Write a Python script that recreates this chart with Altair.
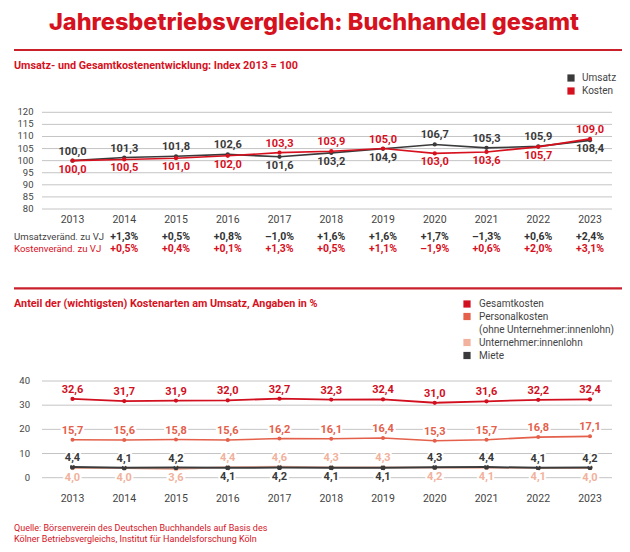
import altair as alt
import pandas as pd

# ---------------- data ----------------
years = [str(y) for y in range(2013, 2024)]

umsatz = [100.0, 101.3, 101.8, 102.6, 101.6, 103.2, 104.9, 106.7, 105.3, 105.9, 108.4]
kosten = [100.0, 100.5, 101.0, 102.0, 103.3, 103.9, 105.0, 103.0, 103.6, 105.7, 109.0]

umsatz_chg = [1.3, 0.5, 0.8, -1.0, 1.6, 1.6, 1.7, -1.3, 0.6, 2.4]   # 2014..2023
kosten_chg = [0.5, 0.4, 0.1, 1.3, 0.5, 1.1, -1.9, 0.6, 2.0, 3.1]    # 2014..2023

gesamt = [32.6, 31.7, 31.9, 32.0, 32.7, 32.3, 32.4, 31.0, 31.6, 32.2, 32.4]
personal = [15.7, 15.6, 15.8, 15.6, 16.2, 16.1, 16.4, 15.3, 15.7, 16.8, 17.1]
unternehmer = [4.0, 4.0, 3.6, 4.4, 4.6, 4.3, 4.3, 4.2, 4.1, 4.1, 4.0]
miete = [4.4, 4.1, 4.2, 4.1, 4.2, 4.1, 4.1, 4.3, 4.4, 4.1, 4.2]

top_ticks = [80, 85, 90, 95, 100, 105, 110, 115, 120]
bottom_ticks = [0, 10, 20, 30, 40]

title_text = "Jahresbetriebsvergleich: Buchhandel gesamt"
sub1_text = "Umsatz- und Gesamtkostenentwicklung: Index 2013 = 100"
sub2_text = "Anteil der (wichtigsten) Kostenarten am Umsatz, Angaben in %"
row1_text = "Umsatzveränd. zu VJ"
row2_text = "Kostenveränd. zu VJ"
legend1 = ["Umsatz", "Kosten"]
legend2 = ["Gesamtkosten", "Personalkosten", "(ohne Unternehmer:innenlohn)",
           "Unternehmer:innenlohn", "Miete"]
source_lines = ["Quelle: Börsenverein des Deutschen Buchhandels auf Basis des",
                "Kölner Betriebsvergleichs, Institut für Handelsforschung Köln"]

# ---------------- style ----------------
RED_T = "#d5121e"
RED_RULE = "#c9202b"
C_UMS = "#3a3a3a"
C_KOS = "#d7101e"
C_GES = "#d10f1e"
C_PER = "#e4604a"
C_UNT = "#f1b19c"
C_MIE = "#3a3a3a"
GRID = "#c4c4c4"
TXT = "#444444"
FONT = "Roboto"

O = 8  # page margin


def P(v):
    return v - O


def de(v):
    return f"{v:.1f}".replace(".", ",")


def chg(v):
    return ("+" if v >= 0 else "\u2013") + f"{abs(v):.1f}".replace(".", ",") + "%"


X = alt.X("year:O", scale=alt.Scale(type="point", domain=years,
                                    range=[P(72.5), P(590)], padding=0), axis=None)
YT = alt.Scale(domain=[80, 120], range=[P(209), P(112.3)], nice=False, zero=False)
YB = alt.Scale(domain=[0, 40], range=[P(477.7), P(381)], nice=False, zero=False)


def txt(text, x, y, size, color, weight="normal", align="left", font=FONT, baseline="middle"):
    return alt.Chart(pd.DataFrame({"t": [text]})).mark_text(
        align=align, baseline=baseline, fontSize=size, fontWeight=weight,
        color=color, font=font
    ).encode(text="t:N", x=alt.value(x), y=alt.value(y))


def hrule(y, color, width, x1=P(14), x2=P(622)):
    return alt.Chart(pd.DataFrame({"a": [0]})).mark_rule(
        color=color, strokeWidth=width
    ).encode(x=alt.value(x1), x2=alt.value(x2), y=alt.value(y))


def square(x, y, color):
    return alt.Chart(pd.DataFrame({"a": [0]})).mark_square(
        size=52, color=color, opacity=1
    ).encode(x=alt.value(x), y=alt.value(y))


layers = []

# ---------------- header ----------------
layers.append(txt(title_text, P(314), P(30), 23.5, RED_T, weight=800,
                  align="center", baseline="alphabetic", font="Inter"))
layers.append(hrule(P(50), RED_RULE, 2.2))
layers.append(txt(sub1_text, P(14), P(66), 10.8, RED_T, weight="bold"))
layers.append(square(P(571), P(78), C_UMS))
layers.append(square(P(571), P(91), C_KOS))
layers.append(txt(legend1[0], P(582), P(78.3), 10, TXT))
layers.append(txt(legend1[1], P(582), P(91), 10, TXT))

# ---------------- top chart ----------------
tt = pd.DataFrame({"v": top_ticks})
layers.append(alt.Chart(tt).mark_rule(color=GRID, strokeWidth=1).encode(
    y=alt.Y("v:Q", scale=YT, axis=None), x=alt.value(P(42)), x2=alt.value(P(612))))
layers.append(alt.Chart(tt).mark_text(align="right", baseline="middle", fontSize=9.5,
                                      color=TXT, font=FONT).encode(
    y=alt.Y("v:Q", scale=YT, axis=None), x=alt.value(P(33.5)), text="v:Q"))

du = pd.DataFrame({"year": years, "v": umsatz,
                   "lab": [de(v) for v in umsatz],
                   "pos": ["above" if u >= k else "below" for u, k in zip(umsatz, kosten)]})
dk = pd.DataFrame({"year": years, "v": kosten,
                   "lab": [de(v) for v in kosten],
                   "pos": ["above" if k > u else "below" for u, k in zip(umsatz, kosten)]})

for d, c in [(du, C_UMS), (dk, C_KOS)]:
    layers.append(alt.Chart(d).mark_line(color=c, strokeWidth=1.6).encode(
        x=X, y=alt.Y("v:Q", scale=YT, axis=None)))
    layers.append(alt.Chart(d).mark_circle(color=c, size=18, opacity=1).encode(
        x=X, y=alt.Y("v:Q", scale=YT, axis=None)))
for d, c in [(du, C_UMS), (dk, C_KOS)]:
    for pos, dy in [("above", -9), ("below", 9)]:
        layers.append(alt.Chart(d).transform_filter(f"datum.pos == '{pos}'").mark_text(
            dy=dy, baseline="middle", fontSize=11, fontWeight="bold", color=c, font=FONT
        ).encode(x=X, y=alt.Y("v:Q", scale=YT, axis=None), text="lab:N"))

dy_years = pd.DataFrame({"year": years})
layers.append(alt.Chart(dy_years).mark_text(baseline="middle", fontSize=10.5, color=TXT,
                                            font=FONT).encode(
    x=X, y=alt.value(P(220)), text="year:N"))

dcu = pd.DataFrame({"year": years[1:], "lab": [chg(v) for v in umsatz_chg]})
dck = pd.DataFrame({"year": years[1:], "lab": [chg(v) for v in kosten_chg]})
layers.append(alt.Chart(dcu).mark_text(baseline="middle", fontSize=10.5, fontWeight="bold",
                                       color="#333333", font=FONT).encode(
    x=X, y=alt.value(P(236.7)), text="lab:N"))
layers.append(alt.Chart(dck).mark_text(baseline="middle", fontSize=10.5, fontWeight="bold",
                                       color=C_KOS, font=FONT).encode(
    x=X, y=alt.value(P(249.3)), text="lab:N"))
layers.append(txt(row1_text, P(14), P(236.7), 9.6, TXT))
layers.append(txt(row2_text, P(14), P(249.3), 9.6, C_KOS))

# ---------------- bottom section header ----------------
layers.append(hrule(P(288.3), RED_RULE, 2.2))
layers.append(txt(sub2_text, P(14), P(304), 10.8, RED_T, weight="bold"))
leg_cols = [C_GES, C_PER, None, C_UNT, C_MIE]
leg_y = [304, 316.5, 329.5, 342.5, 355.5]
for lab, col, yy in zip(legend2, leg_cols, leg_y):
    if col is not None:
        layers.append(square(P(467), P(yy), col))
    layers.append(txt(lab, P(479), P(yy), 10, TXT))

# ---------------- bottom chart ----------------
bt = pd.DataFrame({"v": bottom_ticks})
layers.append(alt.Chart(bt).mark_rule(color=GRID, strokeWidth=1).encode(
    y=alt.Y("v:Q", scale=YB, axis=None), x=alt.value(P(42)), x2=alt.value(P(612))))
layers.append(alt.Chart(bt).mark_text(align="right", baseline="middle", fontSize=9.5,
                                      color=TXT, font=FONT).encode(
    y=alt.Y("v:Q", scale=YB, axis=None), x=alt.value(P(30)), text="v:Q"))

dg = pd.DataFrame({"year": years, "v": gesamt, "lab": [de(v) for v in gesamt],
                   "pos": ["above"] * len(years)})
dp = pd.DataFrame({"year": years, "v": personal, "lab": [de(v) for v in personal],
                   "pos": ["above"] * len(years)})
dun = pd.DataFrame({"year": years, "v": unternehmer, "lab": [de(v) for v in unternehmer],
                    "pos": ["above" if u > m else "below" for u, m in zip(unternehmer, miete)]})
dm = pd.DataFrame({"year": years, "v": miete, "lab": [de(v) for v in miete],
                   "pos": ["above" if m >= u else "below" for u, m in zip(unternehmer, miete)]})

series_b = [(dun, C_UNT, 1.8, 20), (dm, C_MIE, 2.0, 26), (dp, C_PER, 1.6, 16), (dg, C_GES, 1.8, 18)]
for d, c, w, s in series_b:
    layers.append(alt.Chart(d).mark_line(color=c, strokeWidth=w).encode(
        x=X, y=alt.Y("v:Q", scale=YB, axis=None)))
    layers.append(alt.Chart(d).mark_circle(color=c, size=s, opacity=1).encode(
        x=X, y=alt.Y("v:Q", scale=YB, axis=None)))
for d, c, w, s in series_b:
    for pos, dy in [("above", -9), ("below", 9.5)]:
        base = alt.Chart(d).transform_filter(f"datum.pos == '{pos}'")
        layers.append(base.mark_text(
            dy=dy, baseline="middle", fontSize=11, fontWeight="bold", font=FONT,
            fill="white", stroke="white", strokeWidth=4
        ).encode(x=X, y=alt.Y("v:Q", scale=YB, axis=None), text="lab:N"))
        layers.append(base.mark_text(
            dy=dy, baseline="middle", fontSize=11, fontWeight="bold", font=FONT, color=c
        ).encode(x=X, y=alt.Y("v:Q", scale=YB, axis=None), text="lab:N"))

layers.append(alt.Chart(dy_years).mark_text(baseline="middle", fontSize=10.5, color=TXT,
                                            font=FONT).encode(
    x=X, y=alt.value(P(499)), text="year:N"))

# ---------------- source ----------------
layers.append(txt(source_lines[0], P(14), P(527.5), 9, RED_T))
layers.append(txt(source_lines[1], P(14), P(538.5), 9, RED_T))

chart = alt.layer(*layers).resolve_scale(y="independent").properties(
    width=614, height=536, padding=0,
    autosize=alt.AutoSizeParams(type="none"),
    background="white",
).configure_view(strokeWidth=0)

chart.save("out.html", embed_options={"renderer": "svg", "actions": False})
